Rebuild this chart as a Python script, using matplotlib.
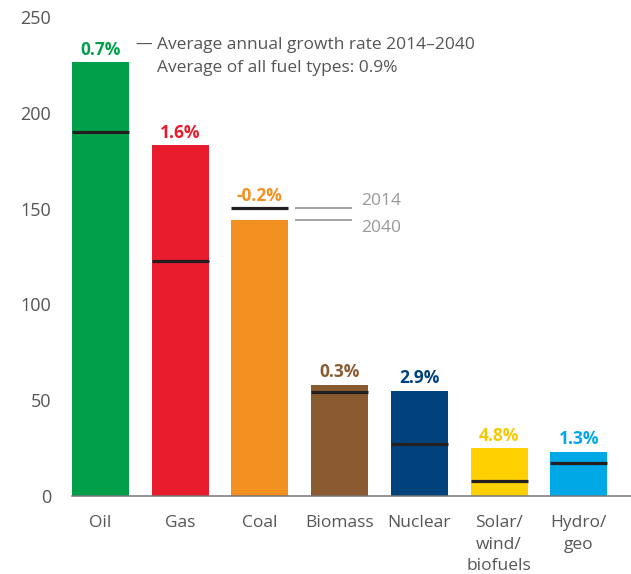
import matplotlib
matplotlib.use("Agg")
import matplotlib.pyplot as plt
import numpy as np

categories = ["Oil", "Gas", "Coal", "Biomass", "Nuclear", "Solar/\nwind/\nbiofuels", "Hydro/\ngeo"]
values_2040 = [226.5, 183, 144, 58, 55, 25, 23]
values_2014 = [190, 122.5, 150.2, 54.5, 27, 8, 17]
growth_labels = ["0.7%", "1.6%", "-0.2%", "0.3%", "2.9%", "4.8%", "1.3%"]
colors = ["#00A04B", "#E91C2E", "#F39120", "#8A5A30", "#00427B", "#FFD100", "#00A8E6"]
label_colors = ["#00A04B", "#E91C2E", "#F39120", "#8A5A30", "#00427B", "#F7C800", "#00A8E6"]
yticks = [0, 50, 100, 150, 200, 250]

FONT = "Open Sans"
plt.rcParams['font.family'] = [FONT, 'DejaVu Sans']

fig = plt.figure(figsize=(6.31, 5.74), dpi=100)
W, H = 631, 574
ax = fig.add_axes([72 / W, 78 / H, (W - 72) / W, 479 / H])

x = np.arange(len(categories))
bw = 0.715
ax.bar(x, values_2040, width=bw, color=colors, zorder=2)
for xi, v in zip(x, values_2014):
    ax.hlines(v, xi - bw / 2, xi + bw / 2, color="#231F20", lw=2.3, zorder=3)

for xi, v1, v2, lab, c in zip(x, values_2014, values_2040, growth_labels, label_colors):
    ax.annotate(lab, (xi, max(v1, v2)), xytext=(0, 9), textcoords="offset points",
                ha="center", va="center", fontsize=12.5, fontweight="bold", color=c)

ax.set_xlim(-bw / 2, 6.656)
ax.set_ylim(0, 250)
ax.set_yticks(yticks)
ax.set_yticklabels([str(t) for t in yticks], fontsize=13, color="#555555")
ax.set_xticks(x)
ax.set_xticklabels(categories, fontsize=12.5, color="#555555", linespacing=1.45, va="top")
ax.tick_params(axis="y", length=0, pad=15)
ax.tick_params(axis="x", length=0, pad=14)
for s in ["top", "right", "left"]:
    ax.spines[s].set_visible(False)
ax.spines["bottom"].set_color("#777777")
ax.spines["bottom"].set_linewidth(1.1)
ax.patch.set_alpha(0)

# legend for 2014 / 2040 markers next to coal bar
coal = 2
lx0, lx1 = 2.44, 3.156
ax.hlines([values_2014[coal], values_2040[coal]], lx0, lx1, color="#8A8A8A", lw=1.1)
ax.annotate("2014", (3.27, values_2014[coal]), xytext=(0, 5.5), textcoords="offset points",
            ha="left", va="center", fontsize=12.5, color="#999999")
ax.annotate("2040", (3.27, values_2040[coal]), xytext=(0, -5.5), textcoords="offset points",
            ha="left", va="center", fontsize=12.5, color="#999999")

fig.text(135 / W, 1 - 45 / H, "—", fontsize=12, color="#555555", ha="left", va="center")
fig.text(157 / W, 1 - 45 / H, "Average annual growth rate 2014–2040", fontsize=12.5,
         color="#555555", ha="left", va="center")
fig.text(157 / W, 1 - 68 / H, "Average of all fuel types: 0.9%", fontsize=12.5,
         color="#555555", ha="left", va="center")

fig.savefig("out.png", dpi=100)
